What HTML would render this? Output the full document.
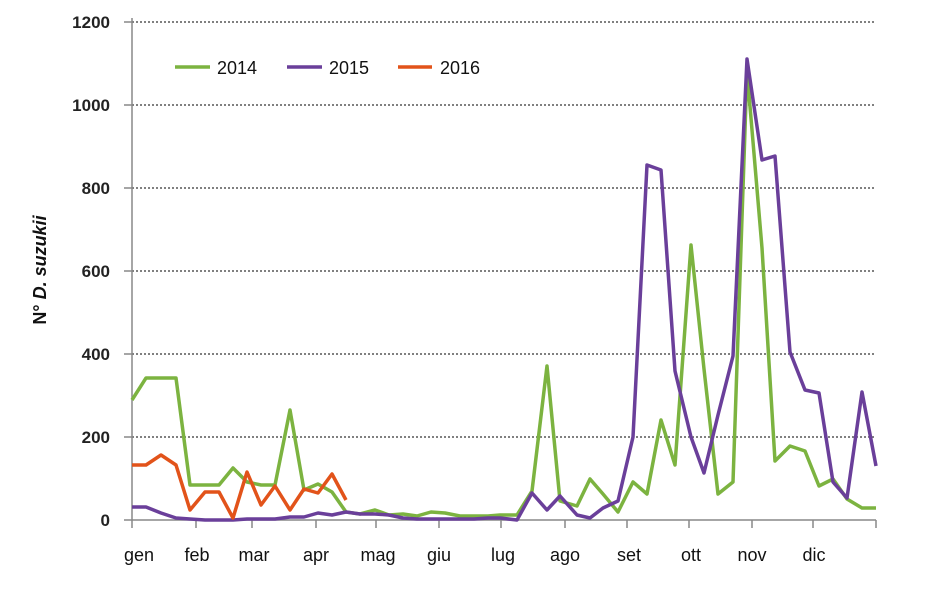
<!DOCTYPE html>
<html><head><meta charset="utf-8"><style>
body{margin:0;background:#fff;}
text{font-family:"Liberation Sans",sans-serif;}
</style></head><body>
<svg width="944" height="584" xmlns="http://www.w3.org/2000/svg">
<g stroke="#000" stroke-width="1" stroke-dasharray="2,2">
<line x1="128" y1="22" x2="876" y2="22"/><line x1="128" y1="105" x2="876" y2="105"/>
<line x1="128" y1="188" x2="876" y2="188"/><line x1="128" y1="271" x2="876" y2="271"/>
<line x1="128" y1="354" x2="876" y2="354"/><line x1="128" y1="437" x2="876" y2="437"/>
</g>
<g stroke="#888" stroke-width="1.5">
<line x1="132" y1="520" x2="876" y2="520"/>
<line x1="124" y1="22" x2="132" y2="22"/><line x1="124" y1="105" x2="132" y2="105"/><line x1="124" y1="188" x2="132" y2="188"/><line x1="124" y1="271" x2="132" y2="271"/><line x1="124" y1="354" x2="132" y2="354"/><line x1="124" y1="437" x2="132" y2="437"/><line x1="124" y1="520" x2="132" y2="520"/>
<line x1="132" y1="18" x2="132" y2="528"/>
<line x1="196" y1="520" x2="196" y2="528"/><line x1="252" y1="520" x2="252" y2="528"/><line x1="316" y1="520" x2="316" y2="528"/><line x1="376" y1="520" x2="376" y2="528"/><line x1="439" y1="520" x2="439" y2="528"/><line x1="501" y1="520" x2="501" y2="528"/><line x1="565" y1="520" x2="565" y2="528"/><line x1="627" y1="520" x2="627" y2="528"/><line x1="689" y1="520" x2="689" y2="528"/><line x1="752" y1="520" x2="752" y2="528"/><line x1="813" y1="520" x2="813" y2="528"/><line x1="876" y1="520" x2="876" y2="528"/>
</g>
<g font-size="17" font-weight="bold" text-anchor="end" fill="#222">
<text x="110" y="28">1200</text><text x="110" y="111">1000</text><text x="110" y="194">800</text><text x="110" y="277">600</text><text x="110" y="360">400</text><text x="110" y="443">200</text><text x="110" y="526">0</text>
</g>
<g font-size="18" text-anchor="middle" fill="#111">
<text x="139" y="561">gen</text><text x="197" y="561">feb</text><text x="254" y="561">mar</text><text x="316" y="561">apr</text><text x="378" y="561">mag</text><text x="439" y="561">giu</text><text x="503" y="561">lug</text><text x="565" y="561">ago</text><text x="629" y="561">set</text><text x="691" y="561">ott</text><text x="752" y="561">nov</text><text x="814" y="561">dic</text>
</g>
<text transform="translate(46,270) rotate(-90)" font-size="18" font-weight="bold" text-anchor="middle" fill="#111">N° <tspan font-style="italic">D. suzukii</tspan></text>
<g fill="none" stroke-width="3.5" stroke-linejoin="round">
<polyline stroke="#7cb340" points="132,400 146,378 161,378 176,378 190,485 205,485 219,485 233,468 247,482 261,485 275,485 290,410 304,490 318,484 332,492 346,512 360,514 375,510 389,515 403,514 417,516 431,512 445,513 460,516 474,516 488,516 500,515 517,515 532,491 547,366 560,501 577,506 590,479 603,494 618,512 633,482 647,494 661,420 675,465 691,245 704,369 718,494 733,482 747,71 762,248 775,461 790,446 805,451 819,486 833,479 847,499 862,508 876,508"/>
<polyline stroke="#6a3f9a" points="132,507 146,507 161,513 176,518 190,519 205,520 219,520 233,520 247,519 261,519 275,519 290,517 304,517 318,513 332,515 346,512 360,514 375,514 389,515 403,518 417,519 431,519 445,519 460,519 474,519 488,518 500,518 517,520 532,493 547,510 560,496 577,515 590,518 603,508 618,501 633,437 647,165 661,170 675,371 691,437 704,473 718,415 733,356 747,59 762,160 775,156 790,352 805,390 819,393 833,482 847,498 862,392 876,466"/>
<polyline stroke="#e2531a" points="132,465 146,465 161,455 176,465 190,510 205,492 219,492 233,518 247,472 261,505 275,486 290,510 304,489 318,493 332,474 346,500"/>
</g>
<line x1="175" y1="67" x2="210" y2="67" stroke="#7cb340" stroke-width="3.5"/>
<line x1="287" y1="67" x2="322" y2="67" stroke="#6a3f9a" stroke-width="3.5"/>
<line x1="398" y1="67" x2="432" y2="67" stroke="#e2531a" stroke-width="3.5"/>
<g font-size="18" fill="#111">
<text x="217" y="74">2014</text><text x="329" y="74">2015</text><text x="440" y="74">2016</text>
</g>
</svg>
</body></html>
